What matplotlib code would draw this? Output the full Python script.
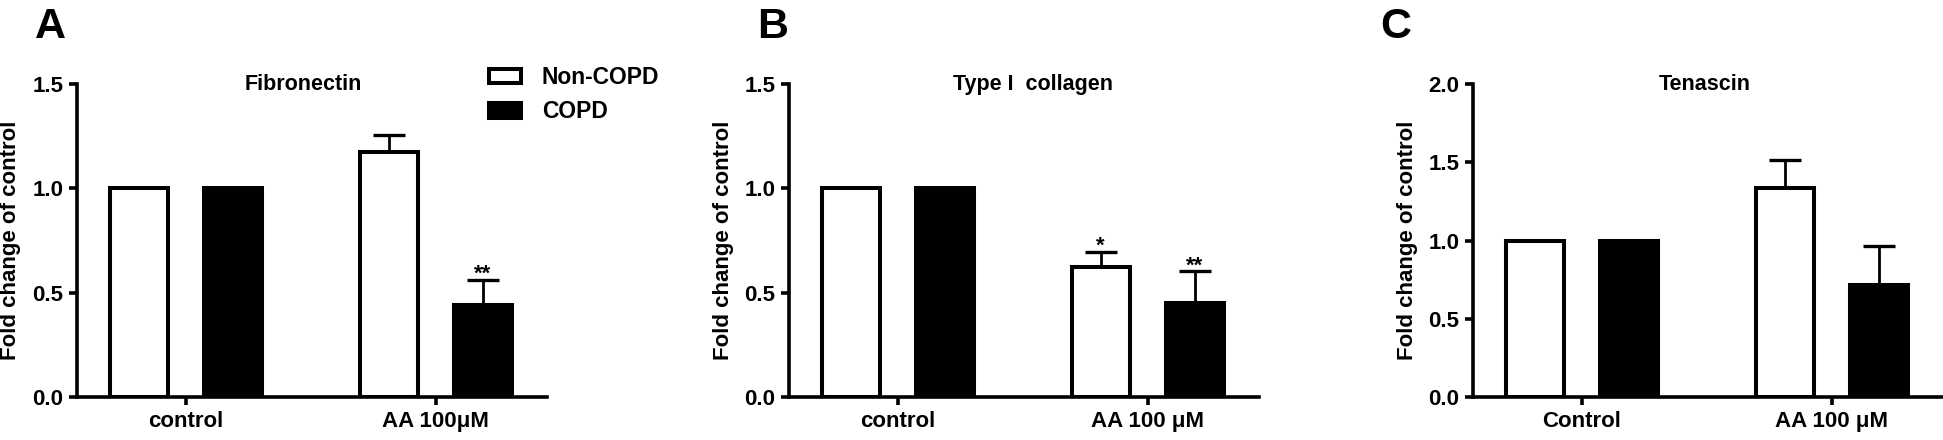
import matplotlib
matplotlib.use('Agg')
import matplotlib.pyplot as plt
from matplotlib.patches import Patch
import numpy as np

plt.rcParams['font.family'] = ['Liberation Sans', 'DejaVu Sans']
plt.rcParams['font.weight'] = 'bold'

# data
labels_A = ['control', 'AA 100\u03bcM']
labels_B = ['control', 'AA 100 \u03bcM']
labels_C = ['Control', 'AA 100 \u03bcM']

non_copd_A = [1.0, 1.175]
non_copd_A_err = [0.0, 0.081]
copd_A = [1.0, 0.441]
copd_A_err = [0.0, 0.122]

non_copd_B = [1.0, 0.622]
non_copd_B_err = [0.0, 0.072]
copd_B = [1.0, 0.452]
copd_B_err = [0.0, 0.150]

non_copd_C = [1.0, 1.333]
non_copd_C_err = [0.0, 0.180]
copd_C = [1.0, 0.715]
copd_C_err = [0.0, 0.250]

stars_A = ['', '**']
stars_B = ['*', '**']
stars_C = ['', '']

W, H = 1943, 440
fig = plt.figure(figsize=(W / 100, H / 100), dpi=100)

panels = [
    ('A', 77, 35, 'Fibronectin', 0.47, labels_A, non_copd_A, non_copd_A_err, copd_A, copd_A_err, stars_A, 1.5, [0, 0.5, 1.0, 1.5]),
    ('B', 789, 757, 'Type I  collagen', 0.54, labels_B, non_copd_B, non_copd_B_err, copd_B, copd_B_err, stars_B, 1.5, [0, 0.5, 1.0, 1.5]),
    ('C', 1473, 1380, 'Tenascin', 0.49, labels_C, non_copd_C, non_copd_C_err, copd_C, copd_C_err, stars_C, 2.0, [0, 0.5, 1.0, 1.5, 2.0]),
]

bw = 0.232
off = 0.188
for letter, left, lx, title, tx, labels, nc, nce, c, ce, stars, ymax, yt in panels:
    ax = fig.add_axes([left / W, 1 - 397 / H, 470 / W, 313 / H])
    x = np.arange(len(labels))
    ax.bar(x - off, nc, bw, facecolor='white', edgecolor='black', linewidth=2.9, zorder=3)
    ax.bar(x + off, c, bw, facecolor='black', edgecolor='black', linewidth=2.9, zorder=3)
    for xs, vals, errs in [(x - off, nc, nce), (x + off, c, ce)]:
        for xi, v, e in zip(xs, vals, errs):
            if e > 0:
                ax.errorbar(xi, v, yerr=[[0], [e]], fmt='none', ecolor='black',
                            elinewidth=2.0, capsize=11.5, capthick=2.4, zorder=2)
    # significance marks on the AA group
    for xi, v, e, s in zip([x[1] - off, x[1] + off], [nc[1], c[1]], [nce[1], ce[1]], stars):
        if s:
            ax.text(xi, v + e, s, ha='center', va='baseline', fontsize=16, fontweight='bold')
    ax.set_xlim(-0.436, 1.446)
    ax.set_ylim(0, ymax)
    ax.set_yticks(yt)
    ax.set_yticklabels(['%.1f' % t for t in yt])
    ax.set_xticks(x)
    ax.set_xticklabels(labels)
    for sp in ['top', 'right']:
        ax.spines[sp].set_visible(False)
    for sp in ['left', 'bottom']:
        ax.spines[sp].set_linewidth(2.6)
    ax.tick_params(axis='both', width=2.6, length=5.8, labelsize=16, pad=4)
    ax.text(-66 / 470, 0.5, 'Fold change of control', rotation=90, ha='center', va='center',
            fontsize=16, fontweight='bold', transform=ax.transAxes)
    ax.text(tx, ymax, title, ha='center', va='center', fontsize=15.5, fontweight='bold')
    fig.text(lx / W, 1 - 38 / H, letter, ha='left', va='baseline', fontsize=31, fontweight='bold')

handles = [Patch(facecolor='white', edgecolor='black', linewidth=2.9),
           Patch(facecolor='black', edgecolor='black', linewidth=2.9)]
fig.legend(handles, ['Non-COPD', 'COPD'], loc='upper left', bbox_to_anchor=(489 / W, 1 - 66 / H),
           frameon=False, fontsize=16.5, handlelength=1.4, handleheight=0.6, handletextpad=0.9,
           labelspacing=0.5, borderpad=0, borderaxespad=0)

fig.savefig('out.png', dpi=100)
